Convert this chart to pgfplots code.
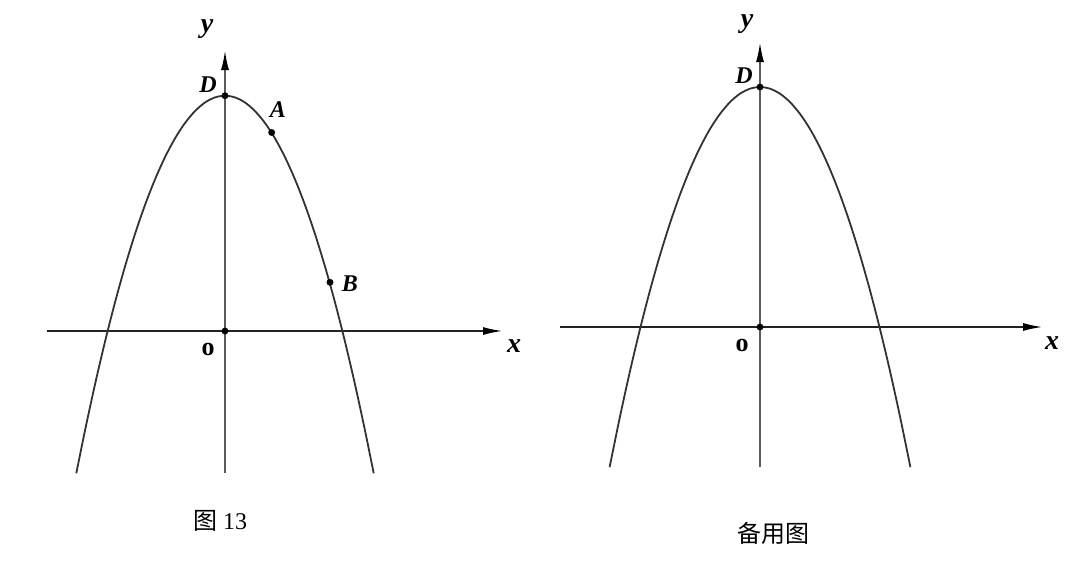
\documentclass[border=0pt]{standalone}
\usepackage{pgfplots}
\pgfplotsset{compat=1.18}
\usepackage{fontspec}
\setmainfont{Liberation Serif}
\newfontfamily\cjk{Noto Sans CJK SC}
\usetikzlibrary{arrows.meta}
\definecolor{axc}{HTML}{222222}
\definecolor{yac}{HTML}{5A5A5A}
\definecolor{pc}{HTML}{333333}
\begin{document}
\begin{tikzpicture}
\begin{axis}[
  scale only axis, width=1080pt, height=568pt,
  xmin=0, xmax=1080, ymin=0, ymax=568,
  y dir=reverse, hide axis, clip=false,
  every axis plot/.append style={line join=round},
]
% bounding
\addplot[draw=none] coordinates {(0,0) (1080,568)};
% ---------- left figure ----------
\addplot[axc, line width=2pt, -{Latex[length=20pt,width=8pt,color=black]}] coordinates {(46.7,331) (503,331)};
\addplot[yac, line width=2pt, -{Latex[length=20pt,width=8pt,color=black]}] coordinates {(225,473.3) (225,50)};
\addplot[pc, line width=1.8pt, smooth, tension=0.5] coordinates {
(76.3,473.3) (85,430.5) (95,384.4) (105,341.7) (115,302.4) (125,266.5) (135,234.0) (145,205.0) (155,179.4)
(165,157.2) (175,138.4) (185,123.0) (195,111.1) (205,102.5) (215,97.4) (225,95.7)
(235,97.4) (245,102.5) (255,111.1) (265,123.0) (275,138.4) (285,157.2) (295,179.4) (305,205.0)
(315,234.0) (325,266.5) (335,302.4) (345,341.7) (355,384.4) (365,430.5) (373.7,473.3)};
\addplot[only marks, mark=*, mark size=3.2pt, black] coordinates {(225,95.7) (271.7,132.5) (330,282.3) (225,331)};
\node[font=\fontsize{28}{32}\selectfont\bfseries\itshape] at (axis cs:207,29) {y};
\node[font=\fontsize{28}{32}\selectfont\bfseries\itshape] at (axis cs:514,346) {x};
\node[font=\fontsize{24}{28}\selectfont\bfseries\itshape] at (axis cs:208,85) {D};
\node[font=\fontsize{24}{28}\selectfont\bfseries\itshape] at (axis cs:278,110) {A};
\node[font=\fontsize{24}{28}\selectfont\bfseries\itshape] at (axis cs:350,284) {B};
\node[font=\fontsize{26}{30}\selectfont\bfseries] at (axis cs:208,349) {o};
\node[font=\fontsize{24}{28}\selectfont] at (axis cs:220,521) {{\cjk 图} 13};
% ---------- right figure ----------
\addplot[axc, line width=2pt, -{Latex[length=20pt,width=8pt,color=black]}] coordinates {(560,327) (1043,327)};
\addplot[yac, line width=2pt, -{Latex[length=20pt,width=8pt,color=black]}] coordinates {(760,467.3) (760,42)};
\addplot[pc, line width=1.8pt, smooth, tension=0.5] coordinates {
(609.6,467.2) (620,416.5) (630,371.1) (640,329.1) (650,290.4) (660,255.1) (670,223.2) (680,194.6) (690,169.4)
(700,147.5) (710,129.0) (720,113.9) (730,102.1) (740,93.7) (750,88.7) (760,87)
(770,88.7) (780,93.7) (790,102.1) (800,113.9) (810,129.0) (820,147.5) (830,169.4) (840,194.6)
(850,223.2) (860,255.1) (870,290.4) (880,329.1) (890,371.1) (900,416.5) (910.4,467.2)};
\addplot[only marks, mark=*, mark size=3.2pt, black] coordinates {(760,87) (760,327)};
\node[font=\fontsize{28}{32}\selectfont\bfseries\itshape] at (axis cs:747,24) {y};
\node[font=\fontsize{28}{32}\selectfont\bfseries\itshape] at (axis cs:1052,343) {x};
\node[font=\fontsize{24}{28}\selectfont\bfseries\itshape] at (axis cs:744,76) {D};
\node[font=\fontsize{26}{30}\selectfont\bfseries] at (axis cs:742,345) {o};
\node[font=\fontsize{24}{28}\selectfont\cjk] at (axis cs:773,533) {备用图};
\end{axis}
\end{tikzpicture}
\end{document}
